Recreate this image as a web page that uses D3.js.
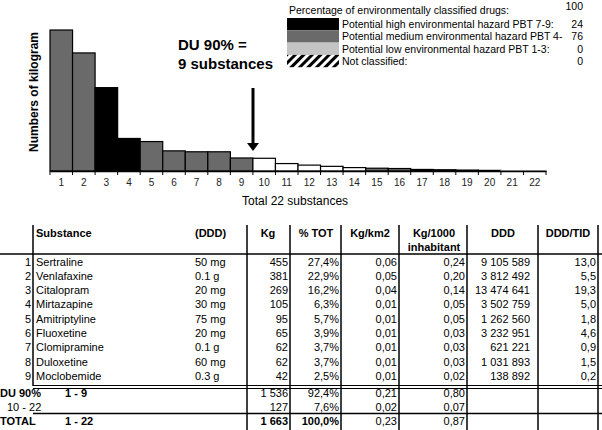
<!DOCTYPE html>
<html>
<head>
<meta charset="utf-8">
<script src="https://cdn.jsdelivr.net/npm/d3@7"></script>
<style>
body { margin:0; background:#fff; }
svg { font-family: "Liberation Sans", Arial, sans-serif; }
</style>
</head>
<body>
<svg id="chart" width="602" height="430"></svg>
<script>
// bar chart data (kg per substance, rank 1-22)
var ranks = d3.range(1, 23);
var kgValues = [455, 381, 269, 105, 95, 65, 62, 62, 42, 41, 24, 19, 15, 11, 9, 8, 5, 4, 3, 2, 1, 1];
var hazard = ['med','med','high','high','med','med','med','med','med','none','none','none','none','none','med','med','high','high','high','high','low','low'];

// legend
var legendLabels = ['Potential high environmental hazard PBT 7-9:', 'Potential medium environmental hazard PBT 4-', 'Potential low environmental hazard PBT 1-3:', 'Not classified:'];
var legendValues = [24, 76, 0, 0];
var legendKeys = ['high', 'med', 'low', 'hatch'];

// table data
var rowNums = [1, 2, 3, 4, 5, 6, 7, 8, 9];
var substances = ['Sertraline', 'Venlafaxine', 'Citalopram', 'Mirtazapine', 'Amitriptyline', 'Fluoxetine', 'Clomipramine', 'Duloxetine', 'Moclobemide'];
var dddDose = ['50 mg', '0.1 g', '20 mg', '30 mg', '75 mg', '20 mg', '0.1 g', '60 mg', '0.3 g'];
var kgCol = ['455', '381', '269', '105', '95', '65', '62', '62', '42'];
var pctTot = ['27,4%', '22,9%', '16,2%', '6,3%', '5,7%', '3,9%', '3,7%', '3,7%', '2,5%'];
var kgKm2 = ['0,06', '0,05', '0,04', '0,01', '0,01', '0,01', '0,01', '0,01', '0,01'];
var kgInhab = ['0,24', '0,20', '0,14', '0,05', '0,05', '0,03', '0,03', '0,03', '0,02'];
var dddCol = ['9 105 589', '3 812 492', '13 474 641', '3 502 759', '1 262 560', '3 232 951', '621 221', '1 031 893', '138 892'];
var dddTid = ['13,0', '5,5', '19,3', '5,0', '1,8', '4,6', '0,9', '1,5', '0,2'];

var sumLabels = ['DU 90%', '', 'TOTAL'];
var sumRanges = ['1 - 9', '10 - 22', '1 - 22'];
var sumKg = ['1 536', '127', '1 663'];
var sumPct = ['92,4%', '7,6%', '100,0%'];
var sumKm2 = ['0,21', '0,02', '0,23'];
var sumInhab = ['0,80', '0,07', '0,87'];

var fills = { high: '#000', med: '#6a6a6a', low: '#c4c4c4', none: '#fff' };

var svg = d3.select('#chart');
var defs = svg.append('defs');
var pat = defs.append('pattern').attr('id', 'hatch').attr('patternUnits', 'userSpaceOnUse')
    .attr('width', 6).attr('height', 6).attr('patternTransform', 'rotate(45)');
pat.append('rect').attr('width', 3).attr('height', 6).attr('fill', '#000');

var x = d3.scaleBand().domain(ranks).range([50, 546]).padding(0);
var y = d3.scaleLinear().domain([0, 455]).range([171, 30]);

svg.append('g').selectAll('rect').data(ranks).enter().append('rect')
    .attr('x', function(d) { return x(d); })
    .attr('y', function(d, i) { return y(kgValues[i]); })
    .attr('width', x.bandwidth())
    .attr('height', function(d, i) { return y(0) - y(kgValues[i]); })
    .attr('fill', function(d, i) { return fills[hazard[i]]; })
    .attr('stroke', function(d, i) { return hazard[i] == 'low' ? '#999' : '#000'; })
    .attr('stroke-width', 1.2);

// x axis
var ax = svg.append('g').attr('transform', 'translate(0,171)')
    .call(d3.axisBottom(x).tickSize(0).tickPadding(8));
ax.select('.domain').attr('stroke', '#000').attr('stroke-width', 1.5);
ax.selectAll('text').attr('font-size', 10).attr('font-family', '"Liberation Sans", Arial, sans-serif').attr('fill', '#222');
svg.append('g').selectAll('line').data(d3.range(0, 23)).enter().append('line')
    .attr('x1', function(d) { return 50 + d * x.bandwidth(); })
    .attr('x2', function(d) { return 50 + d * x.bandwidth(); })
    .attr('y1', 171).attr('y2', 175).attr('stroke', '#000');

svg.append('text').attr('x', 242).attr('y', 205).attr('font-size', 12).text('Total 22 substances');
svg.append('text').attr('transform', 'translate(38,92) rotate(-90)').attr('text-anchor', 'middle')
    .attr('font-size', 12).attr('font-weight', 'bold').text('Numbers of kilogram');

svg.append('text').attr('x', 178).attr('y', 50).attr('font-size', 15).attr('font-weight', 'bold').text('DU 90% =');
svg.append('text').attr('x', 178).attr('y', 69).attr('font-size', 15).attr('font-weight', 'bold').text('9 substances');
svg.append('line').attr('x1', 253).attr('x2', 253).attr('y1', 88).attr('y2', 144).attr('stroke', '#000').attr('stroke-width', 3);
svg.append('path').attr('d', 'M247,143 L259,143 L253,151 Z').attr('fill', '#000');

// legend
var lg = svg.append('g').attr('font-size', 10.5);
lg.append('text').attr('x', 289).attr('y', 14).text('Percentage of environmentally classified drugs:');
lg.append('text').attr('x', 583).attr('y', 10).attr('text-anchor', 'end').text('100');
legendLabels.forEach(function(l, i) {
    var ry = 18 + i * 12.3;
    lg.append('rect').attr('x', 287).attr('y', ry).attr('width', 52).attr('height', 12.3)
        .attr('fill', legendKeys[i] == 'hatch' ? 'url(#hatch)' : fills[legendKeys[i]]);
    lg.append('text').attr('x', 342).attr('y', ry + 10).text(l);
    lg.append('text').attr('x', 583).attr('y', ry + 10).attr('text-anchor', 'end').text(legendValues[i]);
});

// table
var tb = svg.append('g').attr('font-size', 11);
var vlines = [247, 290, 341, 399, 467, 538, 598];
var rowY = function(i) { return 265.5 + i * 14.3; };

function line(x1, y1, x2, y2, w) {
    tb.append('line').attr('x1', x1).attr('y1', y1).attr('x2', x2).attr('y2', y2)
        .attr('stroke', '#000').attr('stroke-width', w || 1);
}

line(0, 254, 602, 254, 1.6);
line(33, 225, 33, 386, 1.5);
vlines.forEach(function(v) { line(v, 225, v, 430, 1.5); });
line(33, 385.5, 602, 385.5, 1);
line(33, 388.5, 602, 388.5, 1);
line(33, 413.5, 602, 413.5, 1.6);

var hdr = tb.append('g').attr('font-weight', 'bold');
hdr.append('text').attr('x', 36).attr('y', 237).text('Substance');
hdr.append('text').attr('x', 195).attr('y', 237).text('(DDD)');
hdr.append('text').attr('x', 268).attr('y', 237).attr('text-anchor', 'middle').text('Kg');
hdr.append('text').attr('x', 316).attr('y', 237).attr('text-anchor', 'middle').text('% TOT');
hdr.append('text').attr('x', 370).attr('y', 237).attr('text-anchor', 'middle').text('Kg/km2');
hdr.append('text').attr('x', 434).attr('y', 237).attr('text-anchor', 'middle').text('Kg/1000');
hdr.append('text').attr('x', 434).attr('y', 251).attr('text-anchor', 'middle').text('inhabitant');
hdr.append('text').attr('x', 503).attr('y', 237).attr('text-anchor', 'middle').text('DDD');
hdr.append('text').attr('x', 568).attr('y', 237).attr('text-anchor', 'middle').text('DDD/TID');

function col(arr, xp, anchor, yf, weight) {
    tb.append('g').selectAll('text').data(arr).enter().append('text')
        .attr('x', xp).attr('y', function(d, i) { return yf(i); })
        .attr('text-anchor', anchor)
        .attr('font-weight', weight || 'normal')
        .text(function(d) { return d; });
}

col(rowNums, 31, 'end', rowY);
col(substances, 36, 'start', rowY);
col(dddDose, 195, 'start', rowY);
col(kgCol, 288, 'end', rowY);
col(pctTot, 339, 'end', rowY);
col(kgKm2, 397, 'end', rowY);
col(kgInhab, 465, 'end', rowY);
col(dddCol, 530, 'end', rowY);
col(dddTid, 596, 'end', rowY);

var sumY = function(i) { return 397 + i * 14; };
tb.append('text').attr('x', 0).attr('y', sumY(0)).attr('font-weight', 'bold').text(sumLabels[0]);
tb.append('text').attr('x', 0).attr('y', sumY(2)).attr('font-weight', 'bold').text(sumLabels[2]);
tb.append('text').attr('x', 65).attr('y', sumY(0)).attr('font-weight', 'bold').text(sumRanges[0]);
tb.append('text').attr('x', 7).attr('y', sumY(1)).text(sumRanges[1]);
tb.append('text').attr('x', 65).attr('y', sumY(2)).attr('font-weight', 'bold').text(sumRanges[2]);
[[sumKg, 288], [sumPct, 339], [sumKm2, 397], [sumInhab, 465]].forEach(function(c) {
    c[0].forEach(function(v, i) {
        tb.append('text').attr('x', c[1]).attr('y', sumY(i)).attr('text-anchor', 'end')
            .attr('font-weight', (i == 2 && (c[1] == 288 || c[1] == 339)) ? 'bold' : 'normal').text(v);
    });
});
</script>
</body>
</html>
